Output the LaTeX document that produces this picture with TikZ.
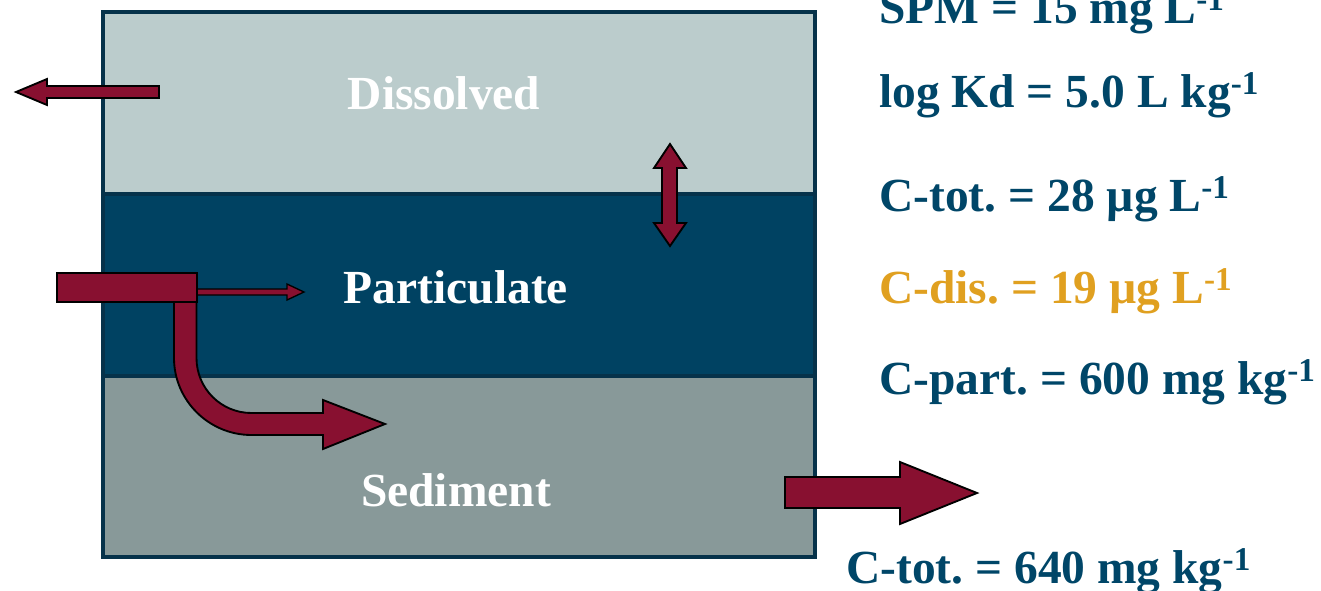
\documentclass[tikz,border=0pt]{standalone}
\usepackage{fontspec}
\setmainfont{Liberation Serif}
\usepackage{xcolor}
\usetikzlibrary{positioning,calc}
\frenchspacing

\definecolor{dislayer}{RGB}{187,204,204}
\definecolor{partlayer}{RGB}{0,66,98}
\definecolor{sedlayer}{RGB}{136,153,153}
\definecolor{boxline}{RGB}{6,50,74}
\definecolor{valblue}{RGB}{0,70,104}
\definecolor{valorange}{RGB}{224,160,32}
\definecolor{flowred}{RGB}{136,16,48}

\begin{document}
\begin{tikzpicture}[x=0.75pt,y=-0.75pt,
		layer/.style={draw=boxline,line width=3.5pt},
		flow/.style={fill=flowred,draw=black,line width=1.4pt,line join=miter},
		layername/.style={text=white,font=\fontsize{35.6}{40}\selectfont\bfseries,inner sep=0pt,anchor=base},
		value/.style={text=valblue,font=\fontsize{35.6}{40}\selectfont\bfseries,inner sep=0pt,anchor=base west}]
		\useasboundingbox (0,0) rectangle (1321,590);

		% Compartments
		\fill[dislayer] (103,12) rectangle (815,194);
		\fill[partlayer] (103,194) rectangle (815,376);
		\fill[sedlayer] (103,376) rectangle (815,557);
		\draw[boxline,line width=3.2pt] (103,194) -- (815,194);
		\draw[boxline,line width=3.2pt] (103,376) -- (815,376);
		\draw[layer] (103,12) rectangle (815,557);

		\node[layername] (dis) at (444,109) {Dissolved};
		\node[layername] (part) at (456,303) {Particulate};
		\node[layername] (sed) at (456,506) {Sediment};

		% Fluxes
		\draw[flow] (159,86) -- (47,86) -- (47,79) -- (16,92) -- (47,105) -- (47,98) -- (159,98) -- cycle;
		\draw[flow] (662,168) -- (654,168) -- (670,144) -- (686,168) -- (677,168)
			-- (677,223) -- (686,223) -- (670,246) -- (654,223) -- (662,223) -- cycle;
		\draw[flow] (174,302) -- (174,358) .. controls (174,400.5) and (209,435) .. (251.5,435)
			-- (323,435) -- (323,449) -- (385,424) -- (323,400) -- (323,413) -- (251.5,413)
			.. controls (221,413) and (196.5,388.4) .. (196.5,358) -- (196.5,302) -- cycle;
		\draw[flow,line width=1pt] (197,289) -- (287,289) -- (287,284) -- (304,292) -- (287,300) -- (287,295) -- (197,295) -- cycle;
		\draw[flow] (57,273) rectangle (197,302);
		\draw[flow] (785,477) -- (900,477) -- (900,462) -- (977,493) -- (900,524) -- (900,508) -- (785,508) -- cycle;

		% Values
		\node[value] (spm) at (879,23) {SPM = 15 mg L\textsuperscript{-1}};
		\node[value] (kd) at (879,107) {log Kd = 5.0 L kg\textsuperscript{-1}};
		\node[value] (ctot) at (879,211) {C-tot. = 28 µg L\textsuperscript{-1}};
		\node[value,text=valorange] (cdis) at (879,303) {C-dis. = 19 µg L\textsuperscript{-1}};
		\node[value] (cpart) at (879,394) {C-part. = 600 mg kg\textsuperscript{-1}};
		\node[value] (csed) at (846,583) {C-tot. = 640 mg kg\textsuperscript{-1}};
	\end{tikzpicture}
\end{document}
